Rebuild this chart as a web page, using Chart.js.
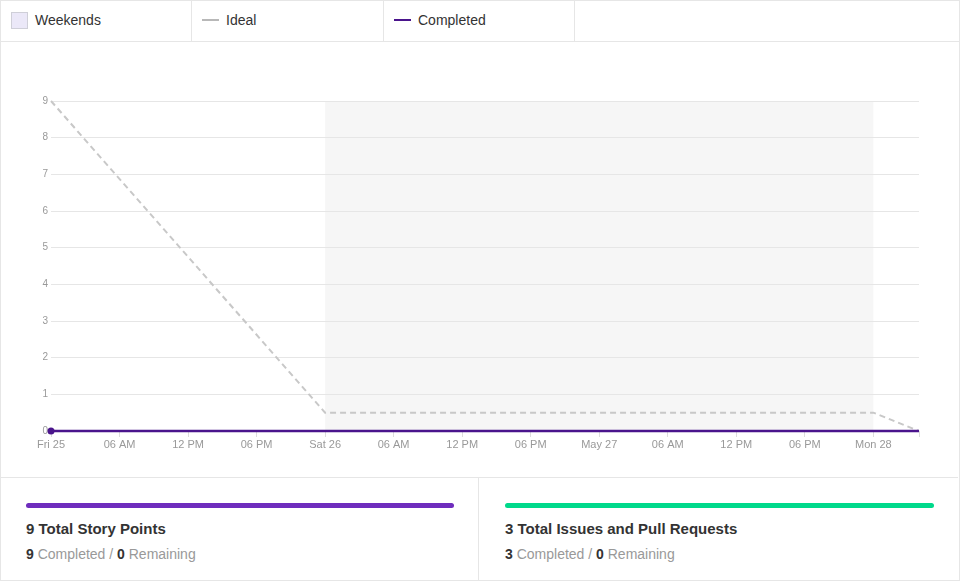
<!DOCTYPE html>
<html>
<head>
<meta charset="utf-8">
<script src="https://cdn.jsdelivr.net/npm/chart.js@4/dist/chart.umd.min.js"></script>
<style>
  html, body { margin: 0; padding: 0; background: #fff; }
  body { width: 960px; height: 581px; position: relative; overflow: hidden;
         font-family: "Liberation Sans", Arial, Helvetica, sans-serif; color: #333; }
  #frame { position: absolute; left: 0; top: 0; width: 958px; height: 579px; border: 1px solid #e6e6e6; }
  #legend { position: absolute; left: 1px; top: 0; width: 958px; height: 41px; border-bottom: 1px solid #e6e6e6; display: flex; }
  .cell { height: 41px; border-right: 1px solid #e6e6e6; box-sizing: border-box; position: relative; font-size: 14px; color: #333; }
  .cell:nth-child(1) { width: 191px; }
  .cell:nth-child(2) { width: 192px; }
  .cell:nth-child(3) { width: 191px; }
  .cell:last-child { border-right: none; flex: 1; }
  .sw { position: absolute; left: 10px; top: 12px; width: 15px; height: 15px; background: #ebe8f8; border: 1px solid #cfcfd8; }
  .ln { position: absolute; left: 10px; top: 19px; width: 17px; height: 2px; }
  .lbl { position: absolute; left: 34px; top: 12px; line-height: 17px; }
  #chartwrap { position: absolute; left: 0; top: 41px; width: 960px; height: 436px; }
  #cards { position: absolute; left: 0; top: 477px; width: 958px; height: 102px; border-top: 1px solid #e6e6e6; display: flex; }
  .card { position: relative; height: 102px; box-sizing: border-box; }
  .card1 { width: 479px; border-right: 1px solid #e6e6e6; }
  .card2 { flex: 1; }
  .bar { position: absolute; top: 25px; height: 5px; border-radius: 3px; }
  .title { position: absolute; top: 42px; font-size: 15px; font-weight: bold; color: #333; line-height: 18px; }
  .sub { position: absolute; top: 67px; font-size: 14px; color: #999; line-height: 18px; }
  .sub b { color: #333; }
</style>
</head>
<body>
<div id="frame"></div>
<div id="legend">
  <div class="cell"><div class="sw"></div><div class="lbl">Weekends</div></div>
  <div class="cell"><div class="ln" style="background:#b8b8b8"></div><div class="lbl">Ideal</div></div>
  <div class="cell"><div class="ln" style="background:#4a148c"></div><div class="lbl">Completed</div></div>
  <div class="cell"></div>
</div>
<div id="chartwrap"><canvas id="c" width="960" height="436"></canvas></div>
<div id="cards">
  <div class="card card1">
    <div class="bar" style="left:26px;width:428px;background:#6f2dbd"></div>
    <div class="title" style="left:26px">9 Total Story Points</div>
    <div class="sub" style="left:26px"><b>9</b> Completed / <b>0</b> Remaining</div>
  </div>
  <div class="card card2">
    <div class="bar" style="left:26px;width:429px;background:#00d98b"></div>
    <div class="title" style="left:26px">3 Total Issues and Pull Requests</div>
    <div class="sub" style="left:26px"><b>3</b> Completed / <b>0</b> Remaining</div>
  </div>
</div>
<script>
// Hours since Fri 25 00:00
const tickHours = [0, 6, 12, 18, 24, 30, 36, 42, 48, 54, 60, 66, 72, 76];
const tickLabels = ['Fri 25', '06 AM', '12 PM', '06 PM', 'Sat 26', '06 AM', '12 PM', '06 PM', 'May 27', '06 AM', '12 PM', '06 PM', 'Mon 28', ''];
const idealHours = [0, 24, 72, 76];
const idealValues = [9, 0.5, 0.5, 0];
const completedHours = [0, 76];
const completedValues = [0, 0];
const weekendStart = [24];
const weekendEnd = [72];
const yTicks = [0, 1, 2, 3, 4, 5, 6, 7, 8, 9];

const weekendPlugin = {
  id: 'weekends',
  beforeDraw(chart) {
    const {ctx, chartArea, scales} = chart;
    ctx.save();
    ctx.fillStyle = '#f6f6f6';
    for (let i = 0; i < weekendStart.length; i++) {
      const x0 = scales.x.getPixelForValue(weekendStart[i]);
      const x1 = scales.x.getPixelForValue(weekendEnd[i]);
      ctx.fillRect(x0, chartArea.top, x1 - x0, chartArea.bottom - chartArea.top);
    }
    ctx.restore();
  }
};

new Chart(document.getElementById('c'), {
  type: 'line',
  data: {
    datasets: [
      {
        label: 'Completed',
        data: completedHours.map((h, i) => ({x: h, y: completedValues[i]})),
        borderColor: '#4a148c',
        backgroundColor: '#4a148c',
        borderWidth: 2.5,
        pointRadius: completedHours.map((h, i) => i === 0 ? 3.5 : 0),
        pointBorderWidth: 0,
        tension: 0,
        fill: false,
        clip: false
      },
      {
        label: 'Ideal',
        data: idealHours.map((h, i) => ({x: h, y: idealValues[i]})),
        borderColor: '#c8c8c8',
        borderWidth: 2,
        borderDash: [6, 4],
        pointRadius: 0,
        tension: 0,
        fill: false,
        clip: false
      }
    ]
  },
  options: {
    responsive: false,
    animation: false,
    devicePixelRatio: 1,
    layout: { padding: { top: 60, right: 41, bottom: 15, left: 0 } },
    plugins: { legend: { display: false }, tooltip: { enabled: false } },
    scales: {
      x: {
        type: 'linear',
        min: 0,
        max: 76,
        afterBuildTicks(scale) { scale.ticks = tickHours.map(v => ({value: v})); },
        afterFit(scale) { scale.height = 31; },
        grid: { drawOnChartArea: false, drawTicks: true, tickLength: 6, color: '#dddddd' },
        border: { display: false },
        ticks: {
          autoSkip: false,
          maxRotation: 0,
          padding: 1,
          color: '#999999',
          font: { family: '"Liberation Sans", Arial, sans-serif', size: 11 },
          callback(value) {
            const i = tickHours.indexOf(value);
            return i >= 0 ? tickLabels[i] : '';
          }
        }
      },
      y: {
        min: 0,
        max: 9,
        afterBuildTicks(scale) { scale.ticks = yTicks.map(v => ({value: v})); },
        afterFit(scale) { scale.width = 51; },
        grid: { color: '#e6e6e6', drawTicks: false },
        border: { display: false },
        ticks: {
          padding: 3,
          color: '#999999',
          font: { family: '"Liberation Sans", Arial, sans-serif', size: 10 }
        }
      }
    }
  },
  plugins: [weekendPlugin]
});
</script>
</body>
</html>
